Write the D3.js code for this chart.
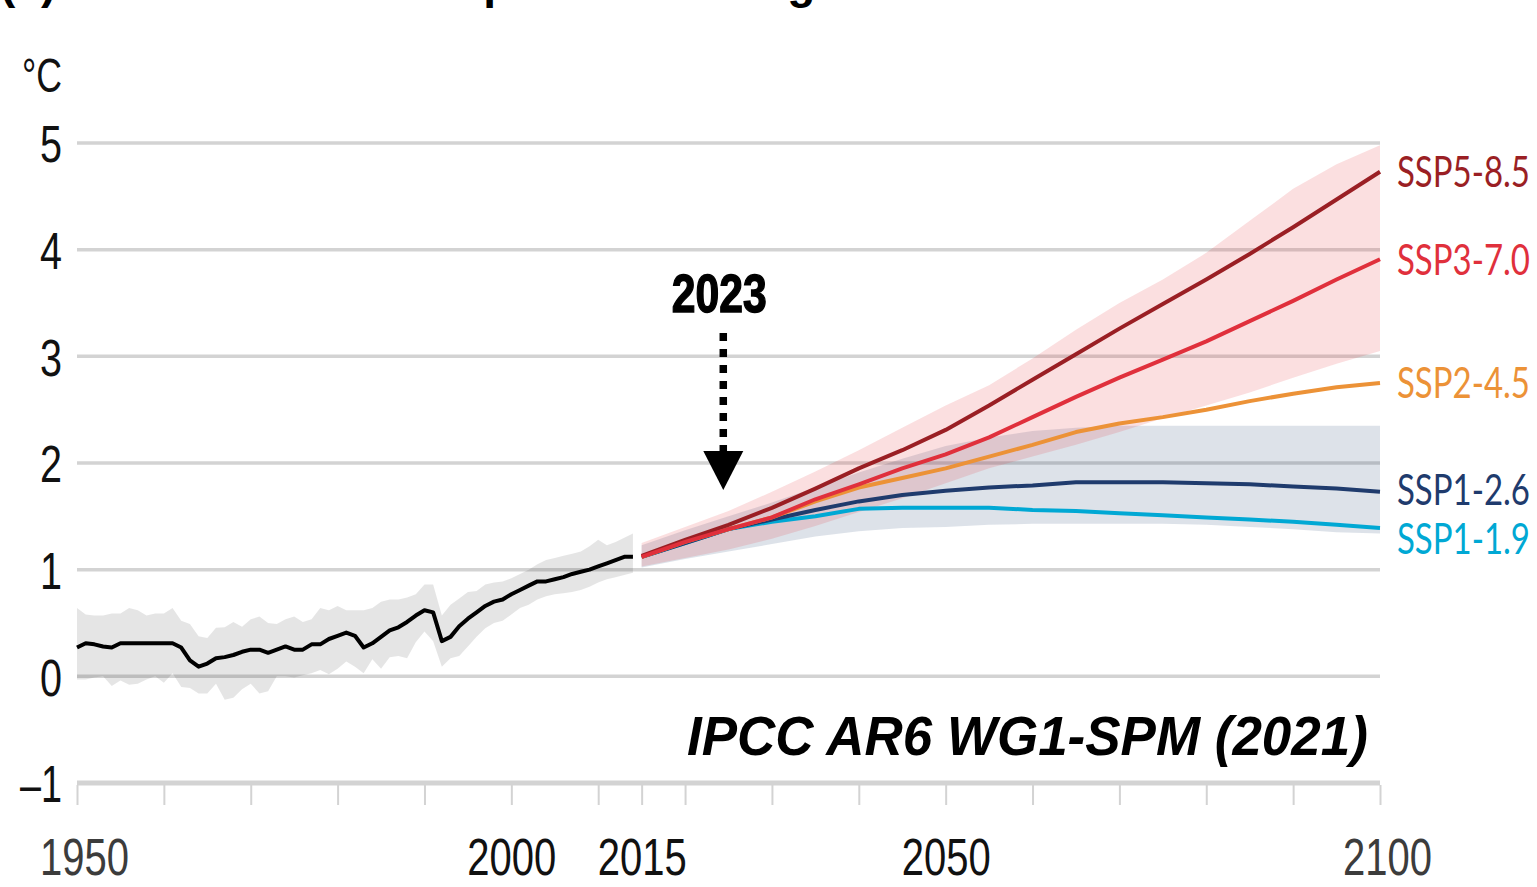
<!DOCTYPE html>
<html>
<head>
<meta charset="utf-8">
<script src="https://cdn.jsdelivr.net/npm/d3@7"></script>
<style>
  html, body { margin: 0; padding: 0; background: #fff; }
  svg { display: block; }
</style>
</head>
<body>
<svg id="chart" width="1537" height="887"></svg>
<script>
// observed (1950-2014)
const histYears = [
	1950, 1951, 1952, 1953, 1954, 1955, 1956, 1957, 1958, 1959,
	1960, 1961, 1962, 1963, 1964, 1965, 1966, 1967, 1968, 1969,
	1970, 1971, 1972, 1973, 1974, 1975, 1976, 1977, 1978, 1979,
	1980, 1981, 1982, 1983, 1984, 1985, 1986, 1987, 1988, 1989,
	1990, 1991, 1992, 1993, 1994, 1995, 1996, 1997, 1998, 1999,
	2000, 2001, 2002, 2003, 2004, 2005, 2006, 2007, 2008, 2009,
	2010, 2011, 2012, 2013, 2014
];
const histMean = [
	0.27, 0.31, 0.30, 0.28, 0.27, 0.31, 0.31, 0.31, 0.31, 0.31,
	0.31, 0.31, 0.27, 0.15, 0.09, 0.12, 0.17, 0.18, 0.20, 0.23,
	0.25, 0.25, 0.22, 0.25, 0.28, 0.25, 0.25, 0.30, 0.30, 0.35,
	0.38, 0.41, 0.38, 0.27, 0.31, 0.37, 0.43, 0.46, 0.51, 0.57,
	0.62, 0.60, 0.33, 0.37, 0.47, 0.54, 0.60, 0.66, 0.70, 0.72,
	0.77, 0.81, 0.85, 0.89, 0.89, 0.91, 0.93, 0.96, 0.98, 1.00,
	1.03, 1.06, 1.09, 1.12, 1.12
];
const histHigh = [
	0.64, 0.58, 0.57, 0.57, 0.59, 0.59, 0.64, 0.62, 0.57, 0.59,
	0.59, 0.64, 0.52, 0.49, 0.375, 0.36, 0.455, 0.46, 0.51, 0.465,
	0.535, 0.56, 0.50, 0.49, 0.535, 0.56, 0.51, 0.535, 0.64, 0.62,
	0.66, 0.62, 0.62, 0.62, 0.64, 0.70, 0.72, 0.72, 0.74, 0.77,
	0.86, 0.86, 0.57, 0.67, 0.73, 0.79, 0.80, 0.86, 0.88, 0.89,
	0.92, 0.96, 1.00, 1.05, 1.09, 1.11, 1.13, 1.15, 1.17, 1.22,
	1.28, 1.23, 1.26, 1.30, 1.34
];
const histLow = [
	-0.03, -0.03, -0.01, 0.00, -0.09, -0.04, -0.08, -0.07, -0.03, 0.00,
	-0.06, 0.03, -0.10, -0.11, -0.16, -0.16, -0.07, -0.22, -0.20, -0.12,
	-0.07, -0.16, -0.14, 0.00, 0.00, -0.01, 0.01, 0.03, 0.06, 0.02,
	0.07, 0.14, 0.09, 0.03, 0.16, 0.07, 0.18, 0.19, 0.17, 0.32,
	0.42, 0.33, 0.09, 0.17, 0.19, 0.28, 0.37, 0.45, 0.50, 0.52,
	0.58, 0.64, 0.67, 0.72, 0.75, 0.77, 0.78, 0.79, 0.81, 0.84,
	0.88, 0.91, 0.93, 0.95, 0.97
];

// projections (2015-2100)
const projYears = [2015, 2020, 2025, 2030, 2035, 2040, 2045, 2050, 2055,
	2060, 2065, 2070, 2075, 2080, 2085, 2090, 2095, 2100];
const ssp119 = [1.12, 1.25, 1.38, 1.45, 1.50, 1.57, 1.58, 1.58, 1.58,
	1.56, 1.55, 1.53, 1.51, 1.49, 1.47, 1.45, 1.42, 1.39];
const ssp126 = [1.12, 1.25, 1.38, 1.47, 1.56, 1.64, 1.70, 1.74, 1.77,
	1.79, 1.82, 1.82, 1.82, 1.81, 1.80, 1.78, 1.76, 1.73];
const ssp245 = [1.12, 1.26, 1.38, 1.49, 1.64, 1.77, 1.86, 1.95, 2.06,
	2.17, 2.29, 2.37, 2.43, 2.50, 2.58, 2.65, 2.71, 2.75];
const ssp370 = [1.12, 1.26, 1.38, 1.49, 1.66, 1.80, 1.95, 2.08, 2.24,
	2.43, 2.62, 2.80, 2.97, 3.14, 3.33, 3.52, 3.72, 3.91];
const ssp585 = [1.13, 1.28, 1.42, 1.58, 1.76, 1.95, 2.12, 2.31, 2.54,
	2.78, 3.02, 3.26, 3.49, 3.72, 3.96, 4.21, 4.47, 4.73];

// very likely ranges
const ssp126High = [1.23, 1.37, 1.50, 1.63, 1.77, 1.91, 2.04, 2.16, 2.24,
	2.30, 2.33, 2.35, 2.35, 2.35, 2.35, 2.35, 2.35, 2.35];
const ssp126Low = [1.02, 1.10, 1.17, 1.24, 1.31, 1.36, 1.39, 1.40, 1.42,
	1.43, 1.43, 1.43, 1.43, 1.42, 1.40, 1.38, 1.35, 1.34];
const ssp370High = [1.25, 1.40, 1.55, 1.73, 1.92, 2.12, 2.33, 2.54, 2.73,
	2.98, 3.25, 3.50, 3.72, 3.97, 4.27, 4.57, 4.80, 4.98];
const ssp370Low = [1.03, 1.11, 1.19, 1.29, 1.41, 1.54, 1.67, 1.81, 1.95,
	2.06, 2.17, 2.29, 2.42, 2.54, 2.66, 2.80, 2.93, 3.05];

const scenarioNames = ['SSP1-1.9', 'SSP1-2.6', 'SSP2-4.5', 'SSP5-8.5', 'SSP3-7.0'];
const scenarioValues = [ssp119, ssp126, ssp245, ssp585, ssp370];
const scenarioColors = ['#00a8d4', '#1f3b6d', '#ec9237', '#9a1f24', '#e0303c'];

const yTicks = [-1, 0, 1, 2, 3, 4, 5];
const xTickYears = [1950, 1960, 1970, 1980, 1990, 2000, 2010, 2015, 2020,
	2030, 2040, 2050, 2060, 2070, 2080, 2090, 2100];
const xLabelYears = [1950, 2000, 2015, 2050, 2100];
const markedYear = '2023';

const svg = d3.select('#chart'),
	x = d3.scaleLinear().domain([1950, 2100]).range([77, 1380]),
	y = d3.scaleLinear().domain([-1, 5]).range([783, 143]);

const zip = (xs, ys) => xs.map((d, i) => [d, ys[i]]);
const zip3 = (xs, lo, hi) => xs.map((d, i) => [d, lo[i], hi[i]]);

const line = d3.line().x(d => x(d[0])).y(d => y(d[1]));
const area = d3.area().x(d => x(d[0])).y0(d => y(d[1])).y1(d => y(d[2]));

// squeeze text horizontally to a given width, keeping its anchor in place
const fitWidth = (sel, width) => sel.each(function (d, i) {
	const node = d3.select(this),
		w = typeof width === 'function' ? width(d, i) : width,
		s = w / this.getComputedTextLength(),
		ax = +node.attr('x') || 0;
	node.attr('transform', `translate(${ax},0) scale(${s},1) translate(${-ax},0)`);
});

// title, mostly cut off at the top edge
svg.append('text')
	.attr('x', 0)
	.attr('y', -2)
	.style('font', 'bold 46px "Liberation Sans", Arial, sans-serif')
	.text('(a) Global surface temperature change relative to 1850–1900');

// grid
svg.append('g')
	.selectAll('line')
	.data(yTicks)
	.join('line')
	.attr('x1', x(1950))
	.attr('x2', x(2100))
	.attr('y1', d => y(d))
	.attr('y2', d => y(d))
	.attr('stroke', '#d3d3d3')
	.attr('stroke-width', d => d === -1 ? 5 : 3.5);

// x ticks
const gx = svg.append('g')
	.attr('transform', `translate(0,${y(-1) + 2})`)
	.call(d3.axisBottom(x).tickValues(xTickYears).tickSize(20).tickFormat(''));
gx.select('.domain').remove();
gx.selectAll('line').attr('stroke', '#d3d3d3').attr('stroke-width', 2);

// x labels
const gxl = svg.append('g')
	.attr('transform', `translate(0,${y(-1)})`)
	.call(d3.axisBottom(x).tickValues(xLabelYears).tickSize(0).tickFormat(d3.format('d')));
gxl.select('.domain').remove();
gxl.selectAll('text')
	.attr('x', d => (d === 1950 || d === 2100) ? 7 : 0)
	.attr('y', 92)
	.attr('dy', 0)
	.attr('fill', d => (d === 1950 || d === 2100) ? '#3c3c3c' : '#111')
	.style('font', '52px "Liberation Sans", Arial, sans-serif')
	.call(fitWidth, 89);

// y labels
const gy = svg.append('g')
	.attr('transform', `translate(${x(1950)},0)`)
	.call(d3.axisLeft(y).tickValues(yTicks).tickSize(0).tickPadding(15)
		.tickFormat(d => d < 0 ? '–' + Math.abs(d) : String(d)));
gy.select('.domain').remove();
gy.selectAll('text')
	.attr('dy', '0.36em')
	.attr('fill', '#111')
	.style('font', '52px "Liberation Sans", Arial, sans-serif')
	.call(fitWidth, d => d < 0 ? 42 : 22);

svg.append('text')
	.attr('x', 62)
	.attr('y', 92)
	.attr('text-anchor', 'end')
	.attr('fill', '#111')
	.style('font', '49px "Liberation Sans", Arial, sans-serif')
	.text('°C')
	.call(fitWidth, 40);

// uncertainty bands
svg.append('path')
	.datum(zip3(histYears, histLow, histHigh))
	.attr('d', area)
	.attr('fill', 'rgba(0,0,0,0.1)');

svg.append('path')
	.datum(zip3(projYears, ssp126Low, ssp126High))
	.attr('d', area)
	.attr('fill', 'rgba(30,60,110,0.15)');

svg.append('path')
	.datum(zip3(projYears, ssp370Low, ssp370High))
	.attr('d', area)
	.attr('fill', 'rgba(228,55,65,0.16)');

// lines
svg.append('path')
	.datum(zip(histYears, histMean))
	.attr('d', line)
	.attr('fill', 'none')
	.attr('stroke', '#000')
	.attr('stroke-width', 4)
	.attr('stroke-linejoin', 'round');

svg.append('g')
	.selectAll('path')
	.data(scenarioValues)
	.join('path')
	.attr('d', d => line(zip(projYears, d)))
	.attr('fill', 'none')
	.attr('stroke', (_, i) => scenarioColors[i])
	.attr('stroke-width', 4)
	.attr('stroke-linejoin', 'round');

// scenario labels at the line ends
const labelNudge = {'SSP1-2.6': -2, 'SSP1-1.9': 10};
svg.append('g')
	.selectAll('text')
	.data(scenarioNames)
	.join('text')
	.attr('x', x(2100) + 17)
	.attr('y', (d, i) => y(scenarioValues[i][scenarioValues[i].length - 1]) + (labelNudge[d] || 0))
	.attr('dy', '0.36em')
	.attr('fill', (_, i) => scenarioColors[i])
	.style('font', '43px Lato, "Open Sans", sans-serif')
	.text(d => d)
	.call(fitWidth, 133);

// 2023 marker
const ax = x(2024.4);
svg.append('text')
	.attr('x', ax - 4)
	.attr('y', 312)
	.attr('text-anchor', 'middle')
	.attr('stroke', '#000')
	.attr('stroke-width', 1.5)
	.style('font', 'bold 54px "Liberation Sans", Arial, sans-serif')
	.text(markedYear)
	.call(fitWidth, 95);

svg.append('line')
	.attr('x1', ax).attr('x2', ax)
	.attr('y1', 333).attr('y2', 452)
	.attr('stroke', '#000')
	.attr('stroke-width', 7.5)
	.attr('stroke-dasharray', '8 8');

svg.append('path')
	.attr('d', `M${ax - 20},451 L${ax + 20},451 L${ax},490 Z`)
	.attr('fill', '#000');

// source
svg.append('text')
	.attr('x', 687)
	.attr('y', 755)
	.style('font', 'italic bold 56px "Liberation Sans", Arial, sans-serif')
	.text('IPCC AR6 WG1-SPM (2021)')
	.call(fitWidth, 681);
</script>
</body>
</html>
